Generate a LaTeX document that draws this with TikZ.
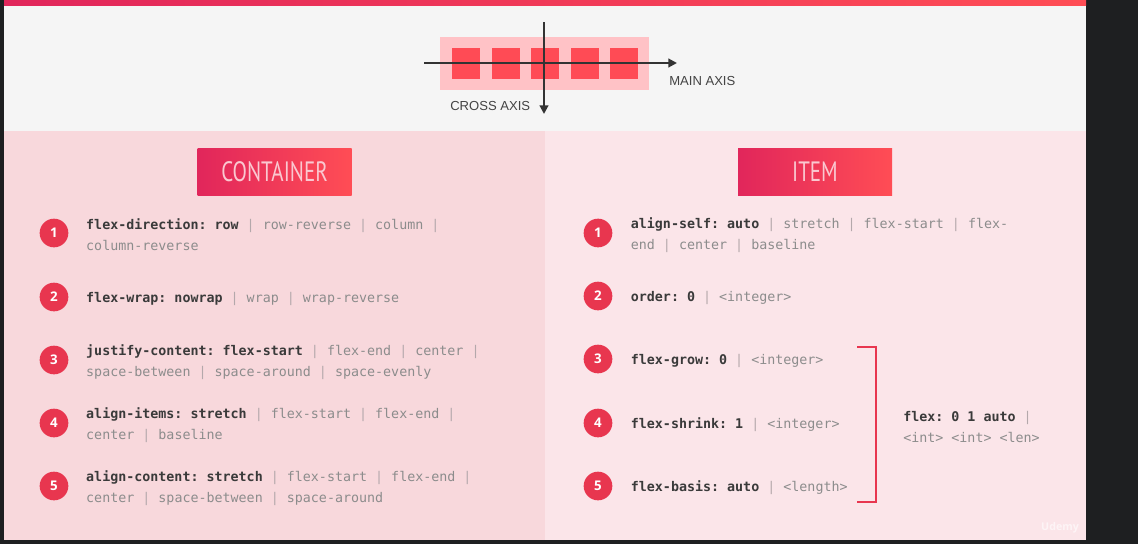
\documentclass[tikz,border=0pt]{standalone}
\usepackage{fontspec}
\setmainfont{Liberation Sans}
\setmonofont{DejaVu Sans Mono}
\newfontfamily\numfont{Open Sans}
\newfontfamily\headfont{PT Sans}
\usetikzlibrary{arrows.meta}
\usetikzlibrary{positioning}
\usetikzlibrary{calc}
\usepackage{xcolor}

\definecolor{darkbg}{HTML}{1E1F21}
\definecolor{bggray}{HTML}{F5F5F5}
\definecolor{redA}{HTML}{E1265B}
\definecolor{redB}{HTML}{FF4D55}
\definecolor{panelL}{HTML}{F8D8DC}
\definecolor{panelR}{HTML}{FBE5E9}
\definecolor{boxpink}{HTML}{FFC2C6}
\definecolor{sqred}{HTML}{FF4B55}
\definecolor{dotred}{HTML}{E8364F}
\definecolor{axisgray}{HTML}{333333}
\definecolor{labgray}{HTML}{444444}
\definecolor{kwdark}{HTML}{3A3A3A}
\definecolor{txtgray}{HTML}{8C8C8C}
\definecolor{sepgray}{HTML}{B4A8AB}
\definecolor{headtxt}{HTML}{FAC8D0}

\newcommand{\kw}[1]{{\bfseries\color{kwdark}#1}}
\newcommand{\orsep}{{\color{sepgray}|}}

\begin{document}
\begin{tikzpicture}[x=0.75pt,y=-0.75pt,
    axisarrow/.style={line width=1.5pt, axisgray, -{Triangle[length=6.5pt,width=6.5pt]}},
    axislabel/.style={font=\fontsize{9.8pt}{11pt}\selectfont, text=labgray, inner sep=0pt},
    headbox/.style={left color=redA, right color=redB, minimum width=115.5pt, minimum height=35.25pt, inner sep=0pt},
    headlabel/.style={font=\headfont\fontsize{21pt}{21pt}\selectfont, text=headtxt},
    numdot/.style={circle, fill=dotred, minimum size=21.5pt, inner sep=0pt, text=white, font=\numfont\bfseries\fontsize{10pt}{10pt}\selectfont},
    propline/.style={font=\ttfamily\fontsize{10pt}{15.75pt}\selectfont, text=txtgray, align=left, inner sep=0pt, anchor=west, yshift=-1.5pt}]

        % Background
        \useasboundingbox (0,0) rectangle (1138,544);
        \fill[darkbg] (0,0) rectangle (1138,544);
        \fill[bggray] (4,5) rectangle (1086,131);
        \shade[left color=redA, right color=redB] (4,0) rectangle (1086,5);
        \fill[panelL] (4,131) rectangle (545,540);
        \fill[panelR] (545,131) rectangle (1086,540);

        % Flex box sketch
        \fill[boxpink] (440,37) rectangle (649,90);
        \foreach \k in {0,...,4}
        {
          \fill[sqred] ($(452,48)+(39.5*\k,0)$) rectangle ++(28,31);
        }

        % Axis
        \coordinate (mainL) at (424,63);
        \coordinate (mainR) at (677,63);
        \coordinate (crossT) at (544,22);
        \coordinate (crossB) at (544,114);
        \draw[axisarrow] (mainL) -- (mainR);
        \draw[axisarrow] (crossT) -- (crossB);
        \node[axislabel, anchor=west] (mainlab) at (669,81) {MAIN AXIS};
        \node[axislabel, anchor=west] (crosslab) at (450,106) {CROSS AXIS};

        % Headers
        \node[headbox] (hdC) at (274.5,171.5) {};
        \node[headlabel] (hdCtxt) at (hdC) {\scalebox{0.75}[1]{CONTAINER}};
        \node[headbox] (hdI) at (815,171.5) {};
        \node[headlabel] (hdItxt) at (hdI) {\scalebox{0.75}[1]{ITEM}};

        % Container properties
        \foreach \i/\y/\txt in {
          1/233/{\kw{flex-direction: row} \orsep{} row-reverse \orsep{} column \orsep\\column-reverse},
          2/297/{\kw{flex-wrap: nowrap} \orsep{} wrap \orsep{} wrap-reverse},
          3/360/{\kw{justify-content: flex-start} \orsep{} flex-end \orsep{} center \orsep\\space-between \orsep{} space-around \orsep{} space-evenly},
          4/423/{\kw{align-items: stretch} \orsep{} flex-start \orsep{} flex-end \orsep\\center \orsep{} baseline},
          5/486/{\kw{align-content: stretch} \orsep{} flex-start \orsep{} flex-end \orsep\\center \orsep{} space-between \orsep{} space-around}}
        {
          \node[numdot] (lc\i) at (54,\y) {\i};
          \node[propline, right=13pt of lc\i] (lt\i) {\txt};
        }

        % Item properties
        \foreach \i/\y/\txt in {
          1/233/{\kw{align-self: auto} \orsep{} stretch \orsep{} flex-start \orsep{} flex-\\end \orsep{} center \orsep{} baseline},
          2/296/{\kw{order: 0} \orsep{} <integer>},
          3/359/{\kw{flex-grow: 0} \orsep{} <integer>},
          4/423/{\kw{flex-shrink: 1} \orsep{} <integer>},
          5/486/{\kw{flex-basis: auto} \orsep{} <length>}}
        {
          \node[numdot] (rc\i) at (598,\y) {\i};
          \node[propline, right=13.5pt of rc\i] (rt\i) {\txt};
        }

        % Shorthand bracket
        \coordinate (brTL) at (857,347);
        \coordinate (brTR) at (876,347);
        \coordinate (brBR) at (876,502);
        \coordinate (brBL) at (857,502);
        \draw[line width=1.6pt, dotred] (brTL) -- (brTR) -- (brBR) -- (brBL);
        \node[propline] (flexsh) at (903,425) {\kw{flex: 0 1 auto} \orsep\\<int> <int> <len>};

        % Watermark
        \node[font=\numfont\bfseries\fontsize{8pt}{8pt}\selectfont, text=white, opacity=0.6] (wm) at (1060,528) {Udemy};
\end{tikzpicture}
\end{document}
